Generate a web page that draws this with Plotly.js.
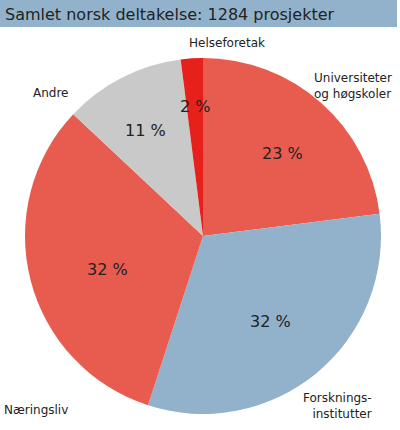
<!DOCTYPE html>
<html>
<head>
<meta charset="utf-8">
<script src="https://cdn.plot.ly/plotly-3.0.1.min.js"></script>
<style>
  html, body { margin: 0; padding: 0; background: #fff; }
  #chart { width: 400px; height: 430px; }
</style>
</head>
<body>
<div id="chart"></div>
<script>
// ── data ─────────────────────────────────────────────
const TITLE = 'Samlet norsk deltakelse: 1284 prosjekter';
const categories = ['Universiteter<br>og høgskoler', 'Forsknings-<br>institutter', 'Næringsliv', 'Andre', 'Helseforetak'];
const shares = [23, 32, 32, 11, 2];

const COLORS = ['#e85c50', '#92b1ca', '#e85c50', '#c9c9c9', '#e8201b'];
const W = 400, H = 430;

// label placements in pixels (outer name label, inner percent label)
const nameLabelPos = [
  { x: 394, y: 86, xanchor: 'right', align: 'left' },
  { x: 374, y: 406, xanchor: 'right', align: 'right' },
  { x: 2, y: 410, xanchor: 'left', align: 'left' },
  { x: 50, y: 93, xanchor: 'center', align: 'center' },
  { x: 227, y: 43, xanchor: 'center', align: 'center' },
];
const pctLabelPos = [
  { x: 282, y: 153 },
  { x: 270, y: 321 },
  { x: 107, y: 269 },
  { x: 145, y: 130 },
  { x: 195, y: 106 },
];

const px = x => x / W;
const py = y => 1 - y / H;

const annotations = [
  ...categories.map((c, i) => ({
    text: c,
    x: px(nameLabelPos[i].x), y: py(nameLabelPos[i].y),
    xref: 'paper', yref: 'paper',
    xanchor: nameLabelPos[i].xanchor, yanchor: 'middle', align: nameLabelPos[i].align,
    showarrow: false,
    font: { family: 'DejaVu Sans, Verdana, sans-serif', size: 12, color: '#222' },
  })),
  ...shares.map((v, i) => ({
    text: v + ' %',
    x: px(pctLabelPos[i].x), y: py(pctLabelPos[i].y),
    xref: 'paper', yref: 'paper',
    xanchor: 'center', yanchor: 'middle',
    showarrow: false,
    font: { family: 'DejaVu Sans, Verdana, sans-serif', size: 16, color: '#222' },
  })),
];

const trace = {
  type: 'pie',
  labels: categories,
  values: shares,
  sort: false,
  direction: 'clockwise',
  rotation: 0,
  textinfo: 'none',
  hoverinfo: 'label+percent',
  marker: { colors: COLORS, line: { width: 0 } },
  domain: { x: [px(25), px(381)], y: [py(414), py(58)] },
  showlegend: false,
};

const layout = {
  width: W, height: H,
  margin: { l: 0, r: 0, t: 0, b: 0 },
  paper_bgcolor: '#fff',
  showlegend: false,
  title: {
    text: TITLE,
    x: px(5), xanchor: 'left',
    y: py(14), yanchor: 'middle',
    font: { family: 'DejaVu Sans, Verdana, sans-serif', size: 16, color: '#222' },
  },
  shapes: [{
    type: 'rect', xref: 'paper', yref: 'paper',
    x0: 0, x1: px(397), y0: py(27), y1: 1,
    fillcolor: '#92b2cb', line: { width: 0 }, layer: 'below',
  }],
  annotations,
};

Plotly.newPlot('chart', [trace], layout, { displayModeBar: false, staticPlot: true });
</script>
</body>
</html>
